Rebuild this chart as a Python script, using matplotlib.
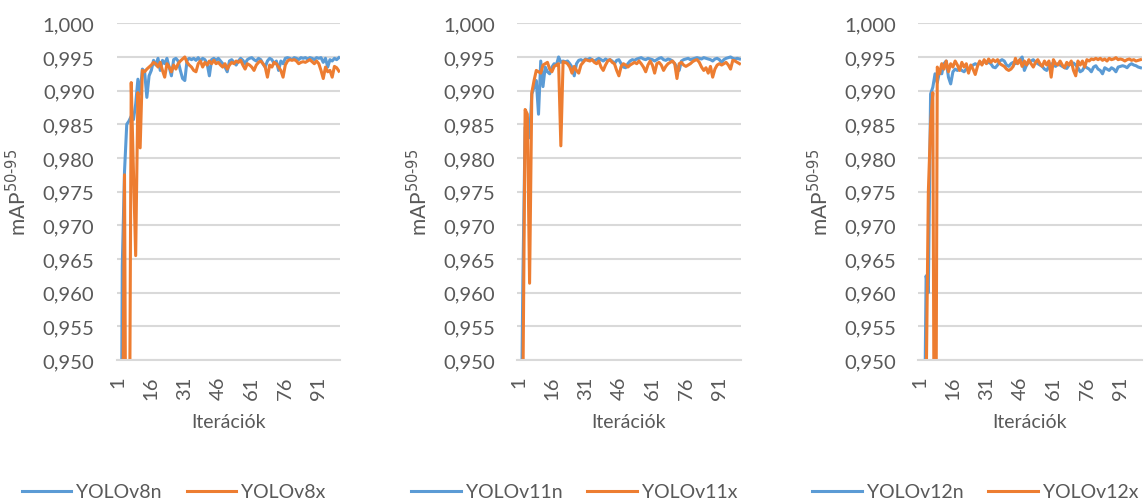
import numpy as np
import matplotlib
matplotlib.use("Agg")
import matplotlib.pyplot as plt
from matplotlib.ticker import FixedLocator, FuncFormatter

plt.rcParams["font.family"] = ["Lato", "DejaVu Sans"]

iterations = list(range(1, 101))

yolov8n = [
    0.8000, 0.9000, 0.9640, 0.9780, 0.9850, 0.9855, 0.9862, 0.9857, 0.9880, 0.9917,
    0.9895, 0.9932, 0.9928, 0.9890, 0.9922, 0.9930, 0.9945, 0.9938, 0.9948, 0.9930,
    0.9945, 0.9940, 0.9948, 0.9935, 0.9922, 0.9946, 0.9948, 0.9944, 0.9930, 0.9918,
    0.9915, 0.9945, 0.9948, 0.9946, 0.9948, 0.9945, 0.9949, 0.9944, 0.9948, 0.9946,
    0.9940, 0.9922, 0.9946, 0.9948, 0.9945, 0.9948, 0.9944, 0.9940, 0.9935, 0.9928,
    0.9944, 0.9946, 0.9942, 0.9938, 0.9944, 0.9948, 0.9945, 0.9940, 0.9946, 0.9948,
    0.9949, 0.9946, 0.9944, 0.9948, 0.9946, 0.9940, 0.9935, 0.9944, 0.9948, 0.9946,
    0.9940, 0.9944, 0.9930, 0.9944, 0.9940, 0.9948, 0.9949, 0.9948, 0.9946, 0.9949,
    0.9948, 0.9946, 0.9949, 0.9948, 0.9949, 0.9947, 0.9949, 0.9948, 0.9946, 0.9949,
    0.9948, 0.9949, 0.9942, 0.9948, 0.9935, 0.9946, 0.9944, 0.9948, 0.9946, 0.9949,
]
yolov8x = [
    0.8500, 0.9000, 0.9300, 0.9775, 0.9000, 0.9200, 0.9912, 0.9780, 0.9655, 0.9897,
    0.9815, 0.9930, 0.9928, 0.9932, 0.9935, 0.9938, 0.9942, 0.9940, 0.9935, 0.9942,
    0.9930, 0.9920, 0.9940, 0.9935, 0.9928, 0.9938, 0.9932, 0.9940, 0.9944, 0.9947,
    0.9950, 0.9942, 0.9938, 0.9935, 0.9930, 0.9928, 0.9940, 0.9944, 0.9935, 0.9942,
    0.9938, 0.9944, 0.9940, 0.9945, 0.9940, 0.9942, 0.9938, 0.9935, 0.9940, 0.9932,
    0.9938, 0.9942, 0.9940, 0.9944, 0.9942, 0.9945, 0.9938, 0.9932, 0.9940, 0.9938,
    0.9935, 0.9930, 0.9938, 0.9942, 0.9944, 0.9940, 0.9935, 0.9920, 0.9938, 0.9935,
    0.9942, 0.9940, 0.9935, 0.9930, 0.9920, 0.9938, 0.9944, 0.9946, 0.9945, 0.9946,
    0.9944, 0.9940, 0.9942, 0.9943, 0.9942, 0.9944, 0.9946, 0.9943, 0.9940, 0.9944,
    0.9940, 0.9930, 0.9918, 0.9935, 0.9928, 0.9930, 0.9920, 0.9936, 0.9934, 0.9929,
]

yolov11n = [
    0.8000, 0.9300, 0.9620, 0.9845, 0.9860, 0.9830, 0.9895, 0.9905, 0.9915, 0.9865,
    0.9944, 0.9906, 0.9935, 0.9928, 0.9925, 0.9935, 0.9940, 0.9938, 0.9950, 0.9942,
    0.9944, 0.9943, 0.9944, 0.9940, 0.9935, 0.9922, 0.9940, 0.9945, 0.9946, 0.9944,
    0.9947, 0.9946, 0.9948, 0.9946, 0.9944, 0.9946, 0.9948, 0.9946, 0.9944, 0.9947,
    0.9945, 0.9946, 0.9944, 0.9940, 0.9945, 0.9946, 0.9940, 0.9935, 0.9934, 0.9940,
    0.9944, 0.9946, 0.9945, 0.9947, 0.9948, 0.9949, 0.9947, 0.9946, 0.9948, 0.9947,
    0.9946, 0.9944, 0.9946, 0.9948, 0.9949, 0.9946, 0.9945, 0.9947, 0.9946, 0.9944,
    0.9940, 0.9935, 0.9930, 0.9944, 0.9946, 0.9947, 0.9948, 0.9946, 0.9947, 0.9948,
    0.9949, 0.9948, 0.9947, 0.9949, 0.9948, 0.9947, 0.9946, 0.9944, 0.9947, 0.9948,
    0.9946, 0.9942, 0.9946, 0.9948, 0.9949, 0.9950, 0.9948, 0.9947, 0.9948, 0.9947,
]
yolov11x = [
    0.8000, 0.9000, 0.9450, 0.9872, 0.9865, 0.9614, 0.9897, 0.9915, 0.9930, 0.9928,
    0.9926, 0.9938, 0.9940, 0.9942, 0.9932, 0.9928, 0.9936, 0.9938, 0.9940, 0.9818,
    0.9943, 0.9942, 0.9940, 0.9935, 0.9926, 0.9936, 0.9930, 0.9926, 0.9938, 0.9942,
    0.9946, 0.9945, 0.9944, 0.9946, 0.9942, 0.9940, 0.9944, 0.9935, 0.9930, 0.9938,
    0.9944, 0.9946, 0.9942, 0.9940, 0.9930, 0.9922, 0.9936, 0.9940, 0.9938, 0.9935,
    0.9938, 0.9940, 0.9942, 0.9940, 0.9944, 0.9940, 0.9935, 0.9928, 0.9938, 0.9944,
    0.9938, 0.9926, 0.9940, 0.9942, 0.9938, 0.9930, 0.9936, 0.9940, 0.9942, 0.9944,
    0.9940, 0.9918, 0.9940, 0.9942, 0.9938, 0.9936, 0.9938, 0.9940, 0.9943, 0.9945,
    0.9946, 0.9942, 0.9935, 0.9930, 0.9934, 0.9926, 0.9936, 0.9920, 0.9932, 0.9938,
    0.9940, 0.9938, 0.9940, 0.9942, 0.9938, 0.9932, 0.9945, 0.9944, 0.9942, 0.9940,
]

yolov12n = [
    0.8000, 0.9000, 0.9300, 0.9625, 0.9600, 0.9895, 0.9905, 0.9925, 0.9912, 0.9928,
    0.9925, 0.9940, 0.9944, 0.9920, 0.9910, 0.9928, 0.9932, 0.9930, 0.9932, 0.9930,
    0.9928, 0.9932, 0.9930, 0.9935, 0.9938, 0.9940, 0.9938, 0.9942, 0.9940, 0.9944,
    0.9941, 0.9942, 0.9940, 0.9935, 0.9934, 0.9938, 0.9944, 0.9946, 0.9944, 0.9938,
    0.9936, 0.9940, 0.9942, 0.9940, 0.9942, 0.9946, 0.9950, 0.9930, 0.9938, 0.9942,
    0.9944, 0.9946, 0.9942, 0.9940, 0.9938, 0.9936, 0.9932, 0.9930, 0.9936, 0.9940,
    0.9938, 0.9936, 0.9940, 0.9938, 0.9936, 0.9934, 0.9933, 0.9938, 0.9940, 0.9941,
    0.9938, 0.9934, 0.9928, 0.9930, 0.9936, 0.9934, 0.9932, 0.9928, 0.9935, 0.9937,
    0.9932, 0.9930, 0.9925, 0.9934, 0.9932, 0.9930, 0.9934, 0.9932, 0.9928, 0.9935,
    0.9936, 0.9937, 0.9936, 0.9934, 0.9938, 0.9940, 0.9938, 0.9937, 0.9935, 0.9934,
]
yolov12x = [
    0.8000, 0.8500, 0.9000, 0.9450, 0.9750, 0.9850, 0.9897, 0.9000, 0.9935, 0.9925,
    0.9940, 0.9932, 0.9944, 0.9928, 0.9940, 0.9935, 0.9944, 0.9938, 0.9930, 0.9942,
    0.9935, 0.9940, 0.9926, 0.9938, 0.9932, 0.9924, 0.9936, 0.9944, 0.9938, 0.9946,
    0.9940, 0.9947, 0.9942, 0.9946, 0.9943, 0.9946, 0.9940, 0.9938, 0.9936, 0.9932,
    0.9930, 0.9932, 0.9936, 0.9948, 0.9940, 0.9946, 0.9936, 0.9944, 0.9938, 0.9946,
    0.9940, 0.9935, 0.9942, 0.9946, 0.9940, 0.9936, 0.9944, 0.9938, 0.9944, 0.9920,
    0.9946, 0.9940, 0.9938, 0.9944, 0.9938, 0.9934, 0.9942, 0.9938, 0.9944, 0.9930,
    0.9922, 0.9944, 0.9938, 0.9944, 0.9935, 0.9946, 0.9944, 0.9947, 0.9946, 0.9948,
    0.9946, 0.9948, 0.9945, 0.9947, 0.9944, 0.9948, 0.9946, 0.9947, 0.9949, 0.9946,
    0.9947, 0.9946, 0.9944, 0.9946, 0.9947, 0.9945, 0.9946, 0.9944, 0.9945, 0.9946,
]

panels = [
    ("YOLOv8n", yolov8n, "YOLOv8x", yolov8x),
    ("YOLOv11n", yolov11n, "YOLOv11x", yolov11x),
    ("YOLOv12n", yolov12n, "YOLOv12x", yolov12x),
]

y_ticks = [0.950, 0.955, 0.960, 0.965, 0.970, 0.975, 0.980, 0.985, 0.990, 0.995, 1.000]
x_ticks = [1, 16, 31, 46, 61, 76, 91]

BLUE = "#5B9BD5"
ORANGE = "#ED7D31"
TEXT = "#595959"
GRID = "#D9D9D9"

W, H = 1147, 502
fig = plt.figure(figsize=(W / 100, H / 100), dpi=100)

plot_lefts = [116.7, 517.3, 918.3]
plot_w = 223.3
plot_top, plot_bottom = 24.3, 361.0

comma_fmt = FuncFormatter(lambda v, _: f"{v:.3f}".replace(".", ","))

for left, (n_name, n_vals, x_name, x_vals) in zip(plot_lefts, panels):
    ax = fig.add_axes([left / W, 1 - plot_bottom / H, plot_w / W,
                       (plot_bottom - plot_top) / H])
    ax.plot(iterations, n_vals, color=BLUE, lw=2.2, label=n_name,
            solid_joinstyle="round")
    ax.plot(iterations, x_vals, color=ORANGE, lw=2.2, label=x_name,
            solid_joinstyle="round")
    ax.set_ylim(0.950, 1.000)
    ax.set_xlim(0.5, 100.5)
    ax.yaxis.set_major_locator(FixedLocator(y_ticks))
    ax.yaxis.set_major_formatter(comma_fmt)
    ax.xaxis.set_major_locator(FixedLocator(x_ticks))
    ax.grid(axis="y", color=GRID, lw=1.5)
    ax.set_axisbelow(True)
    for s in ("top", "right", "left"):
        ax.spines[s].set_visible(False)
    ax.spines["bottom"].set_color(GRID)
    ax.spines["bottom"].set_linewidth(1.5)
    ax.tick_params(axis="both", length=0, colors=TEXT, labelsize=14.6)
    ax.tick_params(axis="y", pad=16)
    ax.tick_params(axis="x", pad=11)
    for lbl in ax.get_xticklabels():
        lbl.set_rotation(90)
    ax.set_xlabel("Iterációk", color=TEXT, fontsize=14, labelpad=10)
    ax.set_ylabel(r"mAP$^{\text{50-95}}$", color=TEXT, fontsize=15, labelpad=9)
    ax.legend(loc="center", bbox_to_anchor=(0.255, -0.392), ncol=2, frameon=False,
              fontsize=14, labelcolor=TEXT, handlelength=2.55,
              handletextpad=0.25, columnspacing=1.3)

fig.savefig("out.png", dpi=100, facecolor="white")
